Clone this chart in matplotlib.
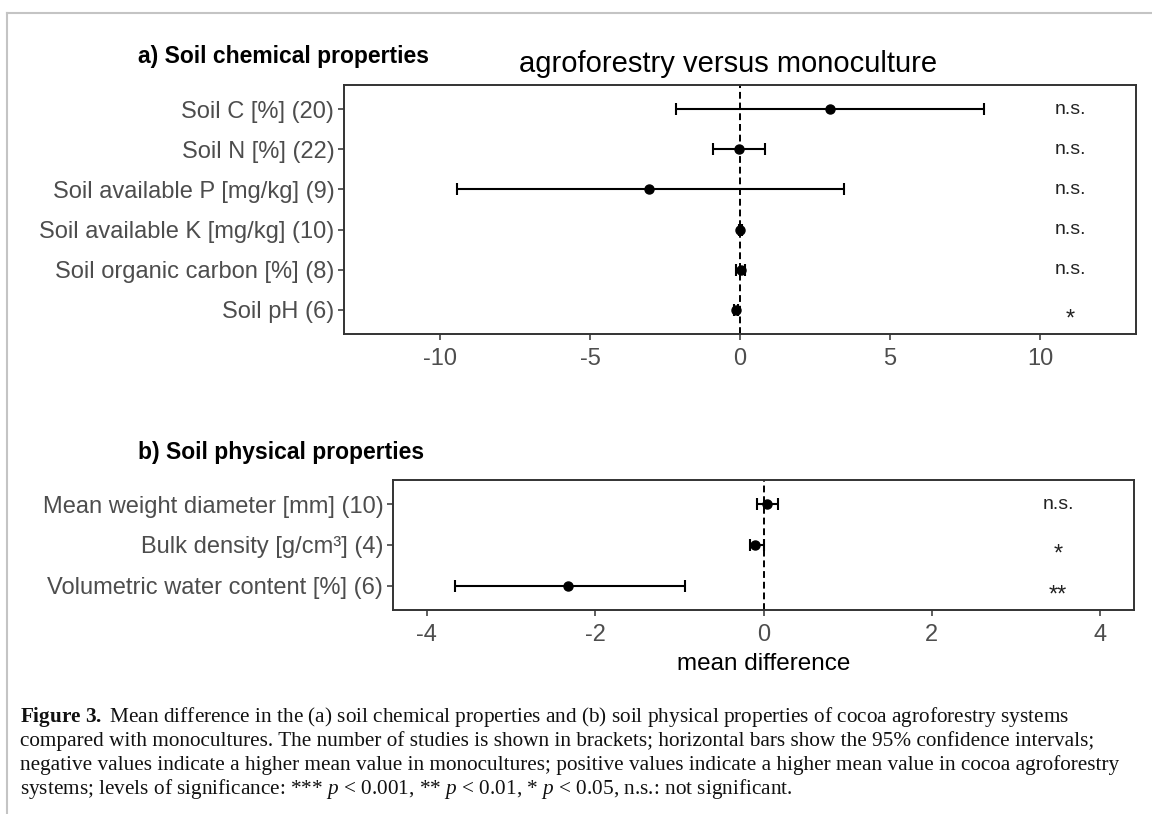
import matplotlib
matplotlib.use("Agg")
import matplotlib.pyplot as plt
import numpy as np
from matplotlib.lines import Line2D

plt.rcParams["font.family"] = ["Liberation Sans", "DejaVu Sans"]
plt.rcParams["mathtext.fontset"] = "custom"
plt.rcParams["mathtext.rm"] = "Liberation Serif"
plt.rcParams["mathtext.it"] = "Liberation Serif:italic"
plt.rcParams["mathtext.bf"] = "Liberation Serif:bold"

# a) soil chemical properties
chem_labels = ["Soil C [%] (20)", "Soil N [%] (22)", "Soil available P [mg/kg] (9)",
               "Soil available K [mg/kg] (10)", "Soil organic carbon [%] (8)", "Soil pH (6)"]
chem_mean = [3.0, -0.04, -3.03, 0.0, 0.02, -0.13]
chem_low = [-2.12, -0.89, -9.45, -0.05, -0.12, -0.20]
chem_high = [8.12, 0.82, 3.46, 0.05, 0.15, -0.06]
chem_sig = ["n.s.", "n.s.", "n.s.", "n.s.", "n.s.", "*"]
chem_ticks = [-10, -5, 0, 5, 10]

# b) soil physical properties
phys_labels = ["Mean weight diameter [mm] (10)", "Bulk density [g/cm³] (4)",
               "Volumetric water content [%] (6)"]
phys_mean = [0.045, -0.10, -2.32]
phys_low = [-0.08, -0.16, -3.66]
phys_high = [0.17, 0.0, -0.93]
phys_sig = ["n.s.", "*", "**"]
phys_ticks = [-4, -2, 0, 2, 4]

caption = [
    r"$\mathbf{Figure\ 3.}$ Mean difference in the (a) soil chemical properties and (b) soil physical properties of cocoa agroforestry systems",
    "compared with monocultures. The number of studies is shown in brackets; horizontal bars show the 95% confidence intervals;",
    "negative values indicate a higher mean value in monocultures; positive values indicate a higher mean value in cocoa agroforestry",
    r"systems; levels of significance: *** $p$ < 0.001, ** $p$ < 0.01, * $p$ < 0.05, n.s.: not significant.",
]

W, H = 1152, 814
fig = plt.figure(figsize=(W / 100, H / 100), dpi=100)


def box(l, t, r, b):
    return [l / W, 1 - b / H, (r - l) / W, (b - t) / H]


def forest(ax, labels, mean, low, high, sig, lim, ticks, sig_x):
    y = np.arange(len(labels))[::-1] + 1
    m = np.array(mean)
    err = [m - np.array(low), np.array(high) - m]
    ax.axvline(0, color="black", lw=1.4, ls=(0, (3.5, 2)), zorder=1)
    ax.errorbar(m, y, xerr=err, fmt="o", color="black", ms=6.5,
                elinewidth=1.5, capsize=4, capthick=1.5, zorder=3)
    for yi, s in zip(y, sig):
        if s.startswith("*"):
            # asterisks sit high in the font, pull them down to the row
            ax.text(sig_x, yi - 0.24, s, ha="center", va="center", fontsize=17,
                    color="#222222")
        else:
            ax.text(sig_x, yi, s, ha="center", va="center", fontsize=14,
                    color="#222222")
    ax.set_yticks(y)
    ax.set_yticklabels(labels)
    ax.set_ylim(0.4, len(labels) + 0.6)
    ax.set_xlim(-lim, lim)
    ax.set_xticks(ticks)
    ax.set_xticklabels([str(t) for t in ticks])
    for sp in ax.spines.values():
        sp.set_color("#333333")
        sp.set_linewidth(1.4)
    ax.tick_params(direction="out", length=4, width=1.1, color="#333333",
                   labelcolor="#4d4d4d", labelsize=17, pad=3)
    ax.tick_params(axis="x", pad=6)


ax1 = fig.add_axes(box(344, 85, 1136, 334))
forest(ax1, chem_labels, chem_mean, chem_low, chem_high, chem_sig, 13.2, chem_ticks, 11)
ax1.set_title("agroforestry versus monoculture", fontsize=21, pad=9, x=0.485)

ax2 = fig.add_axes(box(393, 480, 1134, 610))
forest(ax2, phys_labels, phys_mean, phys_low, phys_high, phys_sig, 4.4, phys_ticks, 3.5)
ax2.set_xlabel("mean difference", fontsize=17.5, labelpad=5)

fig.text(138 / W, 1 - 57 / H, "a) Soil chemical properties", fontsize=16.5,
         fontweight="bold", va="center", ha="left")
fig.text(138 / W, 1 - 452 / H, "b) Soil physical properties", fontsize=16.5,
         fontweight="bold", va="center", ha="left")

for i, line in enumerate(caption):
    fig.text(20 / W, 1 - (717 + 24 * i) / H, line, fontsize=15.3, va="center", ha="left",
             family="Liberation Serif", color="#111111")

# page frame lines of the screenshot
fig.add_artist(Line2D([7 / W, 1], [1 - 13 / H, 1 - 13 / H], transform=fig.transFigure,
                      color="#c4c4c4", lw=1.5))
fig.add_artist(Line2D([7 / W, 7 / W], [0, 1 - 13 / H], transform=fig.transFigure,
                      color="#c4c4c4", lw=1.5))

fig.savefig("out.png", dpi=100)
